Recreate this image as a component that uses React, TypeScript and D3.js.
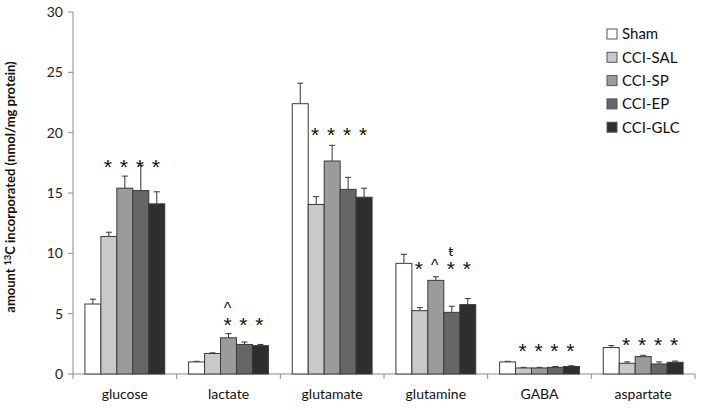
import React from "react";
import * as d3 from "d3";

// categories on the x axis and the five groups
const categories = ["glucose", "lactate", "glutamate", "glutamine", "GABA", "aspartate"];
const groups = ["Sham", "CCI-SAL", "CCI-SP", "CCI-EP", "CCI-GLC"];
const groupColors = ["#ffffff", "#c8c9cb", "#9a9b9d", "#656668", "#2e2e30"];

// mean values per group, in category order
const sham = [5.8, 1.0, 22.4, 9.17, 1.0, 2.19];
const cciSal = [11.4, 1.7, 14.05, 5.25, 0.5, 0.89];
const cciSp = [15.4, 3.0, 17.65, 7.76, 0.5, 1.44];
const cciEp = [15.2, 2.45, 15.3, 5.11, 0.55, 0.83];
const cciGlc = [14.1, 2.35, 14.65, 5.75, 0.62, 0.97];

// error (upper whisker) per group
const shamErr = [0.4, 0.05, 1.7, 0.75, 0.05, 0.16];
const cciSalErr = [0.35, 0.05, 0.65, 0.25, 0.05, 0.11];
const cciSpErr = [1.0, 0.35, 1.3, 0.3, 0.05, 0.11];
const cciEpErr = [2.1, 0.2, 1.0, 0.5, 0.07, 0.17];
const cciGlcErr = [1.0, 0.1, 0.75, 0.5, 0.06, 0.1];

const yTicks = [0, 5, 10, 15, 20, 25, 30];

// significance marks: category, group, symbol, level (data units)
const marks = [
  { cat: "glucose", group: "CCI-SAL", sym: "*", level: 17.5 },
  { cat: "glucose", group: "CCI-SP", sym: "*", level: 17.5 },
  { cat: "glucose", group: "CCI-EP", sym: "*", level: 17.5 },
  { cat: "glucose", group: "CCI-GLC", sym: "*", level: 17.5 },
  { cat: "lactate", group: "CCI-SP", sym: "^", level: 5.6 },
  { cat: "lactate", group: "CCI-SP", sym: "*", level: 4.4 },
  { cat: "lactate", group: "CCI-EP", sym: "*", level: 4.4 },
  { cat: "lactate", group: "CCI-GLC", sym: "*", level: 4.4 },
  { cat: "glutamate", group: "CCI-SAL", sym: "*", level: 20.2 },
  { cat: "glutamate", group: "CCI-SP", sym: "*", level: 20.2 },
  { cat: "glutamate", group: "CCI-EP", sym: "*", level: 20.2 },
  { cat: "glutamate", group: "CCI-GLC", sym: "*", level: 20.2 },
  { cat: "glutamine", group: "CCI-SAL", sym: "*", level: 9.1 },
  { cat: "glutamine", group: "CCI-SP", sym: "^", level: 9.1 },
  { cat: "glutamine", group: "CCI-EP", sym: "ŧ", level: 10.2 },
  { cat: "glutamine", group: "CCI-EP", sym: "*", level: 9.1 },
  { cat: "glutamine", group: "CCI-GLC", sym: "*", level: 9.1 },
  { cat: "GABA", group: "CCI-SAL", sym: "*", level: 2.25 },
  { cat: "GABA", group: "CCI-SP", sym: "*", level: 2.25 },
  { cat: "GABA", group: "CCI-EP", sym: "*", level: 2.25 },
  { cat: "GABA", group: "CCI-GLC", sym: "*", level: 2.25 },
  { cat: "aspartate", group: "CCI-SAL", sym: "*", level: 2.75 },
  { cat: "aspartate", group: "CCI-SP", sym: "*", level: 2.75 },
  { cat: "aspartate", group: "CCI-EP", sym: "*", level: 2.75 },
  { cat: "aspartate", group: "CCI-GLC", sym: "*", level: 2.75 },
];

const values = [sham, cciSal, cciSp, cciEp, cciGlc];
const errors = [shamErr, cciSalErr, cciSpErr, cciEpErr, cciGlcErr];

const W = 704;
const H = 410;
const margin = { top: 12, right: 9, bottom: 36, left: 73 };
const font = "Lato, 'Open Sans', sans-serif";
const markFont = "'Liberation Sans', 'DejaVu Sans', sans-serif";

const App = () => {
  const innerW = W - margin.left - margin.right;
  const innerH = H - margin.top - margin.bottom;

  const x0 = d3.scaleBand().domain(categories).range([0, innerW]).paddingInner(0.23).paddingOuter(0.115);
  const x1 = d3.scaleBand().domain(groups).range([0, x0.bandwidth()]);
  const y = d3.scaleLinear().domain([0, 30]).range([innerH, 0]);
  const step = x0.step();
  const start = x0(categories[0])! - x0.paddingOuter() * step;

  const bars: any[] = [];
  groups.forEach((g, gi) => {
    categories.forEach((c, ci) => {
      bars.push({ g, gi, c, v: values[gi][ci], e: errors[gi][ci] });
    });
  });

  return (
    <div style={{ position: "absolute", left: 0, top: 0 }}>
      <svg width={W} height={H} style={{ display: "block", background: "#fff" }}>
        <g transform={`translate(${margin.left},${margin.top})`} fontFamily={font}>
          {/* y axis */}
          <line x1={0} x2={0} y1={0} y2={innerH} stroke="#8c8c8c" strokeWidth={1} />
          {yTicks.map((t) => (
            <g key={t} transform={`translate(0,${y(t)})`}>
              <line x1={-5} x2={0} stroke="#8c8c8c" />
              <text x={-10} dy="0.35em" textAnchor="end" fontSize={14} fill="#222">
                {t}
              </text>
            </g>
          ))}
          {/* x axis */}
          <line x1={0} x2={innerW} y1={innerH} y2={innerH} stroke="#8c8c8c" />
          {d3.range(categories.length + 1).map((i) => (
            <line key={i} x1={start + i * step} x2={start + i * step} y1={innerH} y2={innerH + 5} stroke="#8c8c8c" />
          ))}
          {categories.map((c) => (
            <text key={c} x={x0(c)! + x0.bandwidth() / 2} y={innerH + 25} textAnchor="middle" fontSize={14} fill="#111">
              {c}
            </text>
          ))}
          {/* bars */}
          {bars.map((d) => {
            const bx = x0(d.c)! + x1(d.g)!;
            const cx = bx + x1.bandwidth() / 2;
            return (
              <g key={d.g + d.c}>
                <line x1={cx} x2={cx} y1={y(d.v)} y2={y(d.v + d.e)} stroke="#333" strokeWidth={1} />
                <line x1={cx - 3} x2={cx + 3} y1={y(d.v + d.e)} y2={y(d.v + d.e)} stroke="#333" strokeWidth={1} />
                <rect
                  x={bx}
                  y={y(d.v)}
                  width={x1.bandwidth()}
                  height={innerH - y(d.v)}
                  fill={groupColors[d.gi]}
                  stroke="#3a3a3a"
                  strokeWidth={1}
                />
              </g>
            );
          })}
          {/* significance marks */}
          {marks.map((m, i) => (
            <text
              key={i}
              x={x0(m.cat)! + x1(m.group)! + x1.bandwidth() / 2 - 1}
              y={y(m.level)}
              dy={m.sym === "*" ? "0.55em" : m.sym === "^" ? "0.45em" : "0.38em"}
              textAnchor="middle"
              fontFamily={m.sym === "ŧ" ? font : markFont}
              fontSize={m.sym === "ŧ" ? 14 : m.sym === "^" ? 16 : 21}
              fill="#111"
            >
              {m.sym}
            </text>
          ))}
          {/* y title */}
          <text
            transform={`translate(${-58},${innerH / 2 - 6}) rotate(-90)`}
            textAnchor="middle"
            fontSize={13}
            fontWeight="bold"
            fill="#111"
          >
            amount <tspan fontSize={9} dy={-4}>13</tspan>
            <tspan dy={4}>C incorporated (nmol/mg protein)</tspan>
          </text>
        </g>
        {/* legend */}
        <g transform="translate(607,29)" fontFamily={font}>
          {groups.map((g, i) => (
            <g key={g} transform={`translate(0,${i * 23.3})`}>
              <rect x={0} y={0} width={10} height={10} fill={groupColors[i]} stroke="#555" strokeWidth={1} />
              <text x={15} y={5} dy="0.36em" fontSize={15} fill="#111">
                {g}
              </text>
            </g>
          ))}
        </g>
      </svg>
    </div>
  );
};

export default App;
